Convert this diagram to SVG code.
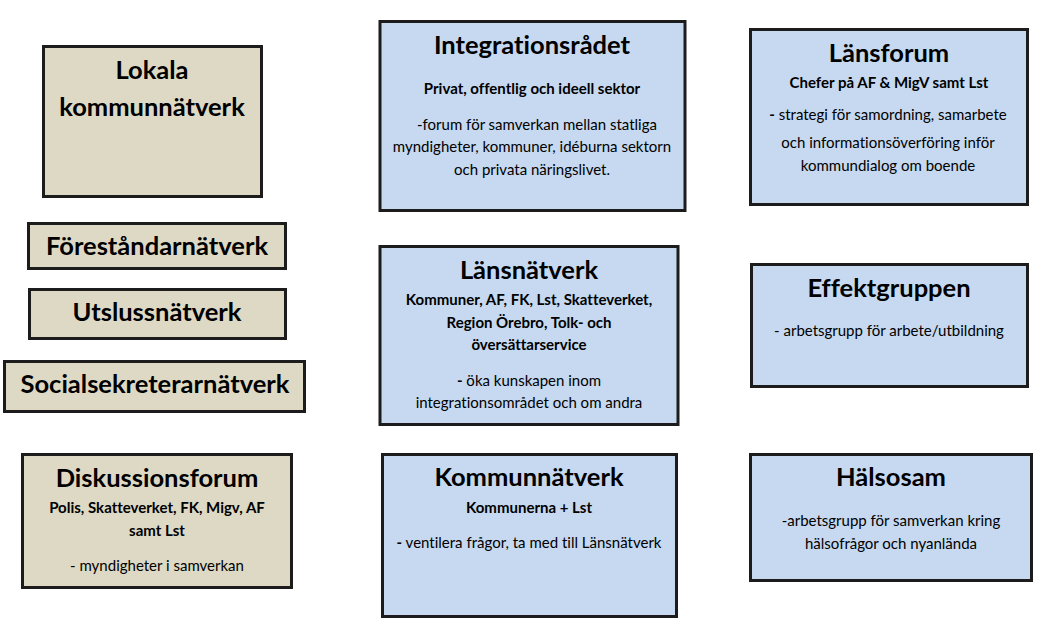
<svg xmlns="http://www.w3.org/2000/svg" width="1042" height="630" viewBox="0 0 1042 630">
<style>
.box{stroke:#1c1c1c;stroke-width:3}
.tan{fill:#ddd9c4}
.blue{fill:#c6d9f0}
text{font-family:Lato,"Open Sans","Liberation Sans",sans-serif;fill:#000;text-anchor:middle;font-variant-ligatures:none}
.t{font-size:25.5px;font-weight:700}
.s{font-size:15px;font-weight:700}
.b{font-size:15px}
</style>
<rect width="1042" height="630" fill="#fff"/>
<g id="connectors"></g>
<g id="lokala">
<rect class="box tan" x="43.5" y="46.5" width="218" height="150"/>
<text class="t" x="152" y="79">Lokala</text>
<text class="t" x="152" y="116">kommunnätverk</text>
</g>
<g id="integrationsradet">
<rect class="box blue" x="380" y="21.5" width="305" height="189"/>
<text class="t" x="532" y="54">Integrationsrådet</text>
<text class="s" x="532" y="94">Privat, offentlig och ideell sektor</text>
<text class="b" x="537" y="130">-forum för samverkan mellan statliga</text>
<text class="b" x="532" y="152">myndigheter, kommuner, idéburna sektorn</text>
<text class="b" x="532" y="175">och privata näringslivet.</text>
</g>
<g id="lansforum">
<rect class="box blue" x="750.5" y="29.5" width="277" height="175"/>
<text class="t" x="889" y="62">Länsforum</text>
<text class="s" x="889" y="88">Chefer på AF &amp; MigV samt Lst</text>
<text class="b" x="888" y="120"><tspan font-weight="700">-</tspan> strategi för samordning, samarbete</text>
<text class="b" x="888" y="148">och informationsöverföring  inför</text>
<text class="b" x="888" y="171">kommundialog om  boende</text>
</g>
<g id="forestandarnatverk">
<rect class="box tan" x="28.5" y="223.5" width="257" height="45"/>
<text class="t" x="157" y="255">Föreståndarnätverk</text>
</g>
<g id="utslussnatverk">
<rect class="box tan" x="29.5" y="289.5" width="256" height="49"/>
<text class="t" x="157" y="321">Utslussnätverk</text>
</g>
<g id="socialsekreterarnatverk">
<rect class="box tan" x="4.5" y="361.5" width="300" height="50"/>
<text class="t" x="155" y="393">Socialsekreterarnätverk</text>
</g>
<g id="lansnatverk">
<rect class="box blue" x="380" y="246.5" width="298" height="178"/>
<text class="t" x="529" y="279">Länsnätverk</text>
<text class="s" x="529" y="305">Kommuner, AF, FK, Lst, Skatteverket,</text>
<text class="s" x="529" y="328">Region Örebro, Tolk- och</text>
<text class="s" x="529" y="350">översättarservice</text>
<text class="b" x="529" y="386"><tspan font-weight="700">-</tspan> öka kunskapen  inom</text>
<text class="b" x="529" y="408">integrationsområdet och om andra</text>
</g>
<g id="effektgruppen">
<rect class="box blue" x="751.5" y="264.5" width="276" height="122"/>
<text class="t" x="889" y="297">Effektgruppen</text>
<text class="b" x="889" y="336">- arbetsgrupp för arbete/utbildning</text>
</g>
<g id="diskussionsforum">
<rect class="box tan" x="22.5" y="454.5" width="269" height="133"/>
<text class="t" x="157" y="487">Diskussionsforum</text>
<text class="s" x="157" y="513">Polis, Skatteverket, FK, Migv, AF</text>
<text class="s" x="157" y="536">samt Lst</text>
<text class="b" x="157" y="571">- myndigheter i samverkan</text>
</g>
<g id="kommunnatverk">
<rect class="box blue" x="382.5" y="454.5" width="294" height="162"/>
<text class="t" x="529" y="486">Kommunnätverk</text>
<text class="s" x="529" y="513">Kommunerna + Lst</text>
<text class="b" x="529" y="548"><tspan font-weight="700">-</tspan> ventilera frågor, ta med till Länsnätverk</text>
</g>
<g id="halsosam">
<rect class="box blue" x="750.5" y="454.5" width="281" height="126"/>
<text class="t" x="891" y="486">Hälsosam</text>
<text class="b" x="891" y="526">-arbetsgrupp för samverkan kring</text>
<text class="b" x="891" y="549">hälsofrågor och nyanlända</text>
</g>
</svg>
